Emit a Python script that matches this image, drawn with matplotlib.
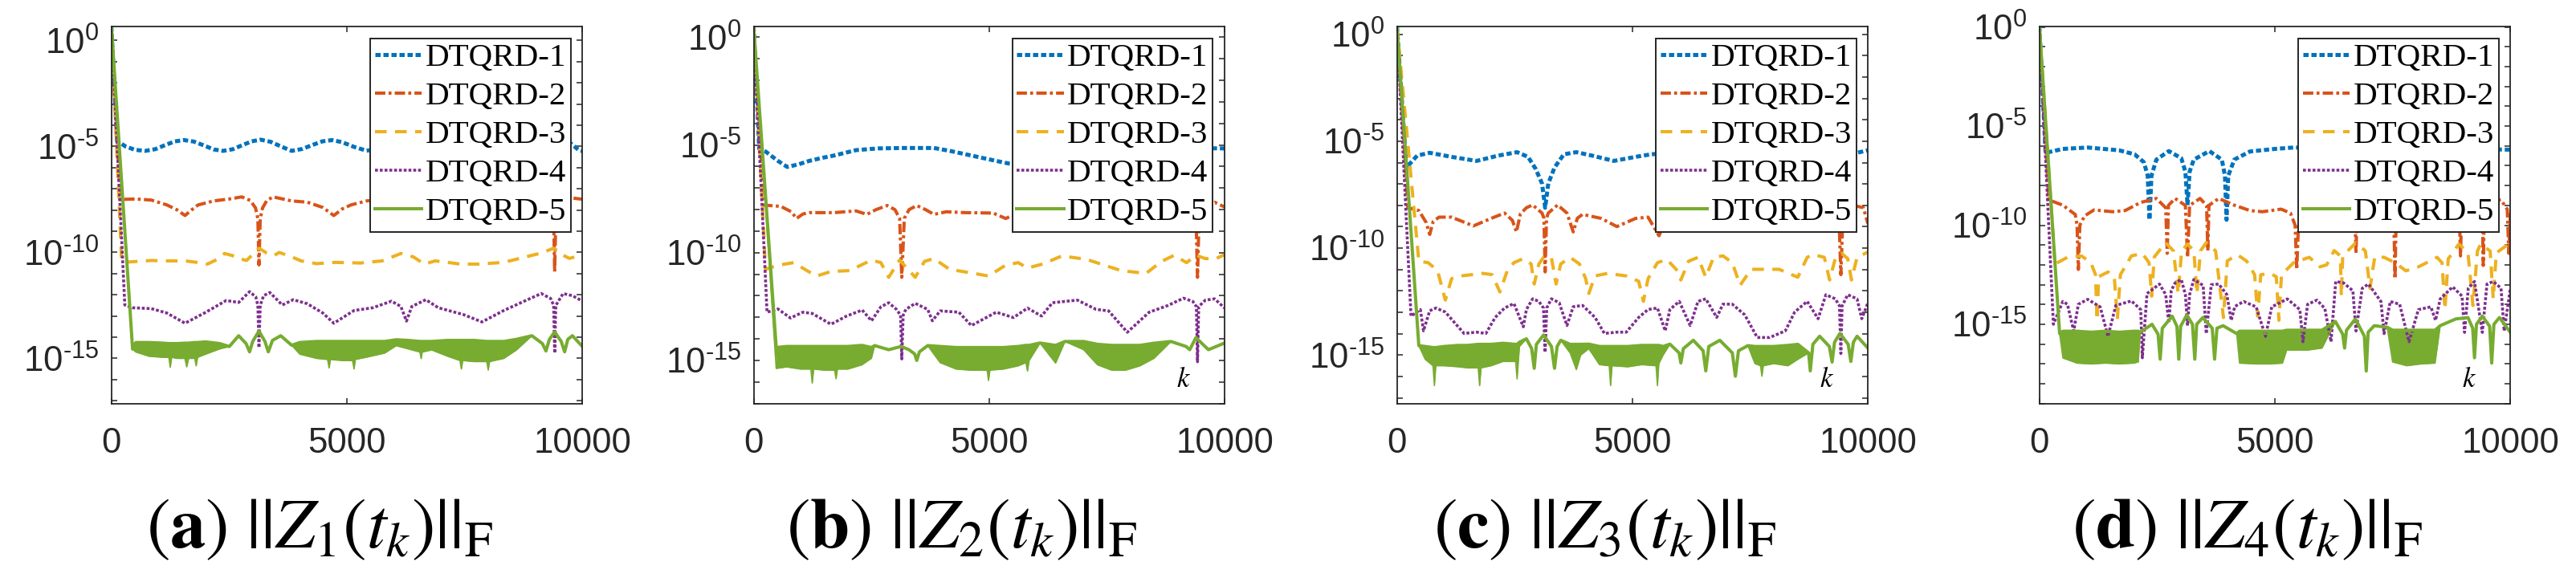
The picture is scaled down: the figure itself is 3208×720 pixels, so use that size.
import numpy as np
import matplotlib
matplotlib.use('Agg')
import matplotlib.pyplot as plt

plt.rcParams['font.family'] = ['Liberation Sans', 'DejaVu Sans']
plt.rcParams['mathtext.fontset'] = 'custom'
plt.rcParams['mathtext.rm'] = 'Liberation Sans'
plt.rcParams['mathtext.it'] = 'Liberation Sans:italic'
plt.rcParams['mathtext.bf'] = 'Liberation Sans:bold'

# ---- data: (k, log10 of ||Z||_F) ----
labels = ['DTQRD-1', 'DTQRD-2', 'DTQRD-3', 'DTQRD-4', 'DTQRD-5']
captions = [r'$(\mathbf{a})\ ||Z_{1}(t_{k})||_{\mathrm{F}}$',
            r'$(\mathbf{b})\ ||Z_{2}(t_{k})||_{\mathrm{F}}$',
            r'$(\mathbf{c})\ ||Z_{3}(t_{k})||_{\mathrm{F}}$',
            r'$(\mathbf{d})\ ||Z_{4}(t_{k})||_{\mathrm{F}}$']
ylog_top = [0.67, 0.51, 0.38, 0.04]
ylog_bot = [-17.13, -17.0, -17.27, -19.0]
show_k = [False, True, True, True]

a1 = [(0,0.67),(120,-4.73),(300,-5.00),(500,-5.16),(715,-5.21),(930,-5.13),(1150,-4.93),(1350,-4.76),(1543,-4.70),(1750,-4.77),(1960,-4.95),(2170,-5.14),(2371,-5.21),(2580,-5.13),(2780,-4.94),(2980,-4.76),(3166,-4.68),(3380,-4.78),(3600,-5.00),(3828,-5.21),(4050,-5.12),(4270,-4.93),(4480,-4.76),(4689,-4.70),(4900,-4.80),(5150,-5.02),(5417,-5.20),(5700,-5.12),(6000,-4.85),(6250,-4.70),(6650,-4.95),(7020,-5.21),(7430,-4.95),(7830,-4.70),(8230,-4.95),(8600,-5.21),(9000,-4.95),(9500,-4.70),(9722,-4.80),(9921,-5.17),(10000,-5.22)]
a2 = [(0,0.67),(185,-7.50),(517,-7.48),(848,-7.53),(1179,-7.76),(1400,-8.00),(1563,-8.26),(1700,-8.00),(1841,-7.76),(2172,-7.57),(2503,-7.48),(2768,-7.38),(2950,-7.55),(3060,-7.90),(3110,-8.40),(3133,-10.59),(3160,-8.40),(3210,-7.90),(3300,-7.55),(3431,-7.38),(3828,-7.57),(4159,-7.63),(4490,-7.88),(4722,-8.26),(4900,-7.95),(5086,-7.76),(5417,-7.57),(5800,-7.50),(6150,-7.45),(6265,-7.80),(6380,-7.45),(6900,-7.55),(7400,-7.75),(7868,-8.26),(8300,-7.76),(8800,-7.55),(9200,-7.40),(9360,-7.90),(9390,-8.40),(9411,-10.91),(9435,-8.40),(9470,-7.90),(9650,-7.40),(10000,-7.49)]
a3 = [(0,0.67),(218,-10.47),(517,-10.43),(848,-10.38),(1179,-10.40),(1576,-10.40),(1850,-10.48),(2040,-10.55),(2238,-10.34),(2404,-10.05),(2570,-10.15),(2700,-10.28),(2868,-10.38),(3000,-10.10),(3133,-9.80),(3298,-10.03),(3450,-10.15),(3563,-10.00),(3828,-10.21),(4027,-10.40),(4358,-10.53),(4755,-10.47),(5285,-10.50),(5749,-10.40),(6146,-10.05),(6411,-10.21),(6643,-10.55),(6875,-10.40),(7139,-10.47),(7404,-10.55),(7802,-10.55),(8331,-10.47),(8795,-10.21),(9126,-10.03),(9391,-9.80),(9590,-10.13),(9722,-10.28),(10000,-10.13)]
a4 = [(0,0.67),(285,-12.48),(450,-12.61),(848,-12.65),(1179,-12.86),(1563,-13.34),(1974,-12.86),(2437,-12.27),(2702,-12.36),(2934,-11.85),(3066,-12.10),(3110,-12.50),(3133,-14.50),(3160,-12.50),(3232,-12.04),(3364,-11.89),(3629,-12.48),(3861,-12.23),(4159,-12.42),(4490,-12.86),(4722,-13.34),(5152,-12.74),(5550,-12.61),(5947,-12.30),(6146,-12.55),(6265,-13.24),(6378,-12.55),(6676,-12.23),(6941,-12.61),(7471,-12.93),(7868,-13.28),(8331,-12.74),(8795,-12.27),(9126,-11.94),(9325,-12.17),(9390,-12.50),(9411,-14.75),(9435,-12.50),(9590,-11.94),(9788,-12.04),(10000,-12.30)]
# DTQRD-5: (k, upper edge, lower edge) of the noisy band
a5 = [(0,0.67,0.67),(450,-14.56,-14.56),(520,-14.25,-14.70),(800,-14.25,-14.90),(1100,-14.28,-14.95),(1220,-14.30,-14.95),(1250,-14.30,-15.42),(1280,-14.30,-14.95),(1400,-14.30,-15.00),(1560,-14.28,-15.00),(1600,-14.28,-15.40),(1640,-14.28,-15.00),(1770,-14.25,-15.00),(1800,-14.25,-15.35),(1830,-14.25,-14.95),(2000,-14.22,-14.80),(2300,-14.30,-14.55),(2503,-14.44,-14.44),(2702,-13.93,-13.93),(2860,-14.30,-14.30),(2934,-14.69,-14.69),(3000,-14.20,-14.20),(3133,-13.71,-13.71),(3260,-14.20,-14.20),(3331,-14.69,-14.69),(3420,-14.15,-14.15),(3596,-13.93,-13.93),(3828,-14.38,-14.38),(4000,-14.25,-14.80),(4358,-14.20,-15.00),(4590,-14.20,-15.05),(4623,-14.20,-15.45),(4650,-14.20,-15.05),(4900,-14.20,-15.10),(5120,-14.20,-15.10),(5152,-14.20,-15.50),(5180,-14.20,-15.05),(5400,-14.20,-14.95),(5800,-14.20,-14.75),(6047,-14.12,-14.40),(6300,-14.15,-14.55),(6550,-14.20,-14.70),(6577,-14.20,-15.01),(6600,-14.20,-14.70),(6800,-14.20,-14.60),(7139,-14.15,-14.90),(7400,-14.15,-15.10),(7430,-14.15,-15.50),(7460,-14.15,-15.10),(7700,-14.15,-15.15),(7970,-14.20,-15.15),(8000,-14.20,-15.55),(8030,-14.20,-15.15),(8331,-14.20,-15.00),(8600,-14.10,-14.60),(8928,-13.93,-13.93),(9150,-14.30,-14.30),(9226,-14.65,-14.65),(9300,-14.10,-14.10),(9411,-13.75,-13.75),(9550,-14.20,-14.20),(9623,-14.69,-14.69),(9690,-14.10,-14.10),(9788,-13.93,-13.93),(10000,-14.44,-14.44)]

b1 = [(0,0.51),(119,-5.18),(252,-5.30),(517,-5.74),(715,-6.02),(950,-5.90),(1179,-5.74),(1450,-5.60),(1709,-5.49),(2172,-5.24),(2636,-5.16),(3166,-5.14),(3828,-5.14),(4159,-5.27),(4623,-5.49),(5152,-5.74),(5417,-5.86),(5800,-5.98),(6200,-6.02),(6800,-5.85),(7500,-5.55),(8300,-5.30),(9000,-5.18),(9500,-5.15),(10000,-5.16)]
b2 = [(0,0.51),(218,-7.79),(580,-7.85),(800,-8.10),(911,-8.41),(1050,-8.20),(1179,-8.14),(1709,-8.14),(2172,-8.06),(2404,-8.22),(2600,-8.00),(2835,-7.81),(3000,-8.00),(3100,-8.41),(3146,-11.14),(3199,-8.41),(3300,-8.00),(3464,-7.81),(3650,-8.00),(3828,-8.22),(4093,-8.10),(4490,-8.14),(5086,-8.16),(5351,-8.41),(5700,-8.10),(6200,-8.00),(6700,-8.10),(7300,-8.20),(7900,-8.35),(8500,-8.10),(9000,-7.90),(9390,-8.10),(9424,-11.14),(9460,-8.10),(9788,-7.66),(10000,-7.88)]
b3 = [(0,0.51),(252,-10.77),(517,-10.58),(848,-10.46),(1179,-10.89),(1344,-11.08),(1642,-10.87),(2040,-10.83),(2503,-10.34),(2702,-10.46),(2868,-11.14),(3100,-10.34),(3431,-11.14),(3629,-10.40),(3828,-10.27),(4159,-10.77),(4490,-10.89),(4987,-11.08),(5351,-10.58),(5616,-10.46),(5815,-10.71),(6146,-10.52),(6543,-10.15),(7073,-10.31),(7404,-10.55),(7802,-10.83),(8331,-10.96),(8663,-10.40),(8928,-10.12),(9192,-10.46),(9391,-10.12),(9590,-10.27),(9788,-10.30),(10000,-10.09)]
b4 = [(0,0.51),(285,-12.76),(517,-12.61),(782,-13.03),(1046,-12.76),(1245,-12.82),(1642,-13.32),(1974,-12.94),(2305,-12.66),(2503,-13.16),(2702,-12.51),(2868,-12.32),(3033,-12.63),(3120,-12.90),(3146,-14.93),(3175,-12.90),(3232,-12.63),(3431,-12.35),(3696,-12.63),(3795,-13.16),(3960,-12.70),(4358,-12.76),(4623,-13.38),(5152,-12.76),(5517,-13.01),(5815,-12.57),(6113,-12.94),(6345,-12.32),(6875,-12.20),(7272,-12.63),(7537,-12.70),(7934,-13.69),(8398,-12.76),(8795,-12.45),(9126,-12.11),(9325,-12.26),(9400,-12.50),(9424,-15.06),(9450,-12.50),(9590,-12.20),(9788,-12.14),(10000,-12.57)]
b5 = [(0,0.51,0.51),(480,-14.40,-15.37),(700,-14.35,-15.30),(1000,-14.35,-15.40),(1215,-14.35,-15.40),(1245,-14.35,-16.05),(1275,-14.35,-15.40),(1500,-14.35,-15.45),(1720,-14.35,-15.45),(1750,-14.35,-15.85),(1780,-14.35,-15.40),(2000,-14.35,-15.40),(2300,-14.30,-15.20),(2500,-14.40,-14.90),(2570,-14.31,-14.31),(2868,-14.50,-14.50),(3133,-14.35,-14.35),(3298,-14.50,-14.50),(3420,-14.70,-14.70),(3464,-15.00,-15.00),(3520,-14.60,-14.60),(3696,-14.31,-14.31),(3960,-14.35,-15.10),(4300,-14.40,-15.40),(4600,-14.40,-15.45),(4957,-14.40,-15.45),(4987,-14.40,-15.93),(5017,-14.40,-15.45),(5300,-14.40,-15.40),(5617,-14.35,-15.25),(5780,-14.30,-15.10),(5815,-14.30,-15.49),(5850,-14.30,-15.00),(6080,-14.19,-14.19),(6411,-14.30,-15.12),(6610,-14.12,-14.12),(7007,-14.12,-14.50),(7300,-14.25,-15.20),(7600,-14.30,-15.45),(7900,-14.30,-15.45),(8200,-14.30,-15.25),(8500,-14.20,-14.90),(8861,-14.12,-14.12),(9180,-14.35,-14.35),(9259,-14.50,-14.50),(9391,-13.94,-13.94),(9560,-14.30,-14.30),(9656,-14.50,-14.50),(10000,-14.19,-14.19)]

c1 = [(0,0.38),(199,-6.23),(430,-5.67),(695,-5.54),(1159,-5.73),(1689,-5.92),(2152,-5.67),(2550,-5.51),(2782,-5.73),(2947,-6.30),(3080,-6.98),(3146,-8.11),(3212,-6.98),(3345,-6.23),(3543,-5.61),(3808,-5.51),(4139,-5.67),(4603,-5.92),(5066,-5.73),(5397,-5.61),(5800,-5.55),(6100,-5.80),(6260,-7.50),(6400,-5.80),(6800,-5.55),(7300,-5.70),(7800,-5.92),(8300,-5.70),(8800,-5.55),(9250,-6.10),(9420,-7.80),(9600,-6.00),(9768,-5.54),(10000,-5.42)]
c2 = [(0,0.38),(232,-8.11),(464,-8.24),(620,-8.80),(695,-9.36),(770,-8.75),(894,-8.55),(1159,-8.55),(1623,-8.96),(2020,-8.59),(2285,-8.36),(2450,-8.70),(2537,-9.24),(2620,-8.40),(2748,-8.11),(2881,-7.98),(3080,-8.36),(3120,-8.60),(3146,-11.11),(3175,-8.60),(3212,-8.36),(3411,-7.98),(3609,-8.36),(3742,-9.24),(3830,-8.60),(3941,-8.42),(4338,-8.61),(4669,-8.99),(5066,-8.61),(5331,-8.55),(5563,-9.42),(5700,-8.70),(6100,-8.30),(6300,-8.90),(6450,-8.30),(6800,-8.10),(7300,-8.60),(7850,-8.95),(8400,-8.60),(8900,-8.30),(9200,-8.10),(9380,-8.30),(9424,-11.24),(9470,-8.30),(9700,-8.00),(9901,-8.11),(10000,-8.86)]
c3 = [(0,0.38),(464,-10.61),(662,-10.68),(861,-11.05),(1027,-12.43),(1159,-11.43),(1358,-11.30),(1821,-11.18),(2020,-11.24),(2186,-12.05),(2351,-10.99),(2484,-10.68),(2682,-10.49),(2848,-10.74),(2914,-11.68),(3013,-10.74),(3113,-10.43),(3278,-10.43),(3378,-11.68),(3477,-10.74),(3676,-10.43),(3874,-10.74),(4007,-11.43),(4073,-12.12),(4205,-11.30),(4470,-11.18),(4868,-11.30),(5132,-11.55),(5232,-12.49),(5331,-11.43),(5530,-10.68),(5729,-10.53),(5927,-10.99),(6027,-11.49),(6192,-10.61),(6391,-10.43),(6556,-11.36),(6722,-10.43),(6921,-10.36),(7119,-10.68),(7285,-11.74),(7517,-10.99),(8113,-10.99),(8510,-11.36),(8709,-10.43),(8841,-10.30),(9073,-10.43),(9185,-11.49),(9305,-10.49),(9437,-10.24),(9570,-10.49),(9649,-11.49),(9768,-10.43),(10000,-10.18)]
c4 = [(0,0.38),(298,-13.18),(497,-12.87),(563,-13.87),(695,-12.93),(828,-12.80),(1027,-12.99),(1225,-13.49),(1424,-13.99),(1689,-13.93),(1888,-13.99),(2086,-13.24),(2285,-12.80),(2484,-12.59),(2682,-13.68),(2748,-12.87),(2881,-12.37),(3013,-12.49),(3110,-12.80),(3146,-14.87),(3180,-12.80),(3278,-12.37),(3444,-12.55),(3609,-13.62),(3742,-12.74),(3941,-12.68),(4205,-13.24),(4404,-13.99),(4669,-13.93),(4868,-13.93),(5132,-13.24),(5331,-12.87),(5530,-12.80),(5695,-13.87),(5795,-12.87),(5993,-12.49),(6225,-13.62),(6391,-12.49),(6556,-12.37),(6788,-13.24),(6921,-12.62),(7119,-12.62),(7384,-13.12),(7649,-14.18),(7914,-14.18),(8245,-13.87),(8444,-12.99),(8709,-12.49),(8941,-13.30),(9106,-12.18),(9305,-12.37),(9395,-12.70),(9424,-14.93),(9450,-12.70),(9570,-12.18),(9768,-12.37),(9868,-13.30),(10000,-12.55)]
c5 = [(0,0.38,0.38),(464,-14.56,-14.56),(600,-14.60,-15.20),(765,-14.65,-15.50),(795,-14.65,-16.43),(825,-14.65,-15.50),(1000,-14.60,-15.50),(1300,-14.55,-15.55),(1500,-14.55,-15.60),(1725,-14.50,-15.60),(1755,-14.50,-16.43),(1785,-14.50,-15.60),(2000,-14.50,-15.50),(2250,-14.45,-15.30),(2520,-14.50,-15.30),(2550,-14.50,-16.12),(2600,-14.40,-14.60),(2748,-14.24,-14.24),(2860,-14.70,-14.70),(2914,-15.62,-15.62),(2960,-14.50,-14.50),(3113,-14.06,-14.06),(3280,-14.60,-14.60),(3345,-15.62,-15.62),(3400,-14.60,-14.60),(3477,-14.31,-14.31),(3676,-14.50,-14.90),(3808,-14.50,-15.68),(3900,-14.50,-15.00),(4073,-14.49,-14.70),(4300,-14.60,-15.45),(4506,-14.60,-15.50),(4536,-14.60,-16.43),(4566,-14.60,-15.50),(4900,-14.60,-15.55),(5200,-14.55,-15.45),(5500,-14.55,-15.50),(5530,-14.55,-16.43),(5560,-14.55,-15.40),(5650,-14.60,-15.00),(5795,-14.49,-14.49),(5990,-14.90,-14.90),(6027,-15.37,-15.37),(6080,-14.70,-14.70),(6292,-14.31,-14.31),(6500,-14.80,-14.80),(6556,-15.74,-15.74),(6620,-14.60,-14.60),(6855,-14.31,-14.31),(7120,-14.90,-14.90),(7185,-15.99,-15.99),(7250,-14.80,-14.80),(7450,-14.56,-14.56),(7600,-14.60,-15.40),(7718,-14.60,-15.50),(7748,-14.60,-15.99),(7778,-14.60,-15.50),(8000,-14.60,-15.40),(8300,-14.55,-15.50),(8510,-14.50,-15.20),(8740,-14.90,-14.90),(8775,-15.74,-15.74),(8830,-14.50,-14.50),(8974,-14.12,-14.12),(9180,-14.60,-14.60),(9238,-15.33,-15.33),(9290,-14.40,-14.40),(9404,-13.99,-13.99),(9580,-14.50,-14.50),(9636,-15.30,-15.30),(9690,-14.40,-14.40),(9768,-14.12,-14.12),(10000,-14.68,-14.68)]

d1 = [(0,0.04),(132,-6.35),(497,-6.15),(1027,-6.08),(1689,-6.22),(2020,-6.42),(2219,-6.82),(2300,-7.50),(2338,-9.73),(2380,-7.50),(2484,-6.69),(2748,-6.26),(3013,-6.62),(3100,-7.30),(3146,-8.99),(3190,-7.30),(3278,-6.69),(3609,-6.26),(3874,-6.69),(3940,-7.50),(3974,-9.73),(4010,-7.50),(4139,-6.69),(4470,-6.28),(5000,-6.15),(5397,-6.08),(6000,-6.10),(6700,-6.10),(7500,-6.10),(8300,-6.12),(9000,-6.15),(10000,-6.19)]
d2 = [(0,0.04),(199,-8.72),(497,-8.99),(762,-9.46),(800,-10.00),(828,-12.23),(860,-10.00),(960,-9.53),(1159,-9.23),(1556,-9.32),(1821,-9.26),(2152,-8.85),(2484,-8.65),(2682,-9.12),(2715,-11.42),(2740,-9.00),(2881,-8.65),(3100,-9.00),(3146,-11.62),(3190,-9.00),(3411,-8.65),(3550,-9.00),(3576,-11.28),(3600,-9.00),(3808,-8.65),(4139,-8.99),(4470,-9.26),(4735,-9.32),(5132,-9.19),(5331,-9.39),(5430,-10.00),(5464,-12.23),(5500,-10.00),(5800,-9.30),(6300,-9.00),(6690,-8.80),(6722,-11.42),(6750,-8.80),(7150,-8.70),(7520,-9.00),(7550,-12.70),(7580,-9.00),(8200,-9.20),(8910,-8.90),(8941,-11.55),(8970,-8.90),(9300,-8.80),(9400,-8.80),(9424,-12.03),(9450,-8.80),(9801,-8.72),(9934,-9.20),(9967,-11.42),(10000,-9.40)]
d3 = [(0,0.04),(331,-11.96),(596,-11.62),(894,-11.55),(1093,-11.89),(1192,-12.50),(1225,-14.80),(1258,-12.60),(1457,-12.36),(1590,-12.60),(1656,-14.73),(1720,-12.50),(1954,-11.55),(2186,-11.42),(2330,-11.90),(2384,-13.58),(2440,-11.60),(2682,-10.88),(2848,-11.30),(2947,-13.45),(3020,-11.30),(3146,-10.95),(3280,-11.30),(3345,-13.45),(3420,-11.30),(3543,-10.88),(3742,-11.30),(3908,-14.66),(3990,-11.80),(4205,-11.49),(4404,-11.82),(4570,-12.50),(4636,-14.59),(4700,-12.50),(4901,-12.43),(5030,-12.60),(5086,-14.80),(5140,-12.50),(5398,-11.89),(5729,-11.62),(5960,-12.10),(6100,-12.00),(6259,-11.28),(6391,-11.55),(6411,-13.58),(6440,-11.55),(6722,-10.88),(6921,-11.30),(7020,-13.18),(7120,-11.60),(7318,-11.62),(7550,-11.89),(7781,-12.30),(8050,-12.10),(8444,-11.62),(8550,-11.90),(8610,-14.26),(8680,-11.70),(8907,-10.95),(9100,-11.40),(9205,-14.05),(9300,-11.30),(9371,-10.95),(9570,-11.30),(9636,-13.72),(9700,-11.40),(10000,-10.88)]
d4 = [(0,0.04),(298,-15.00),(497,-13.85),(596,-13.99),(729,-15.34),(828,-13.99),(1027,-13.74),(1291,-14.12),(1457,-15.61),(1623,-14.05),(1954,-13.82),(2152,-14.26),(2186,-16.69),(2285,-13.45),(2550,-12.97),(2682,-13.50),(2748,-14.93),(2800,-13.30),(2881,-12.91),(3013,-12.74),(3100,-13.50),(3146,-15.07),(3190,-13.50),(3278,-12.74),(3477,-13.04),(3543,-15.47),(3650,-13.00),(3808,-12.97),(3980,-13.50),(4073,-14.80),(4150,-14.10),(4338,-13.85),(4603,-14.12),(4801,-15.61),(4934,-14.12),(5265,-13.72),(5530,-14.26),(5596,-15.88),(5695,-13.99),(5894,-13.78),(6060,-14.20),(6192,-15.88),(6292,-12.84),(6457,-12.91),(6656,-13.31),(6722,-15.34),(6855,-13.18),(6987,-12.97),(7252,-13.85),(7318,-15.47),(7450,-13.85),(7649,-13.99),(7848,-15.88),(8047,-14.26),(8311,-14.12),(8411,-14.80),(8510,-13.72),(8775,-13.11),(8974,-13.58),(9027,-15.41),(9106,-13.18),(9238,-12.84),(9404,-15.41),(9503,-12.97),(9636,-12.84),(9801,-13.18),(9868,-15.34),(10000,-13.18)]
d5 = [(0,0.04,0.04),(430,-15.47,-15.47),(500,-15.35,-16.70),(800,-15.35,-16.96),(1100,-15.40,-17.00),(1400,-15.35,-16.96),(1700,-15.40,-17.00),(2000,-15.35,-16.96),(2100,-15.35,-16.90),(2140,-15.40,-15.40),(2392,-15.00,-15.00),(2520,-15.50,-15.50),(2565,-16.76,-16.76),(2610,-15.20,-15.20),(2820,-14.59,-14.59),(2920,-15.10,-15.10),(2960,-16.76,-16.76),(3000,-15.10,-15.10),(3130,-14.53,-14.53),(3250,-15.00,-15.00),(3300,-16.76,-16.76),(3340,-15.00,-15.00),(3470,-14.66,-14.66),(3670,-15.20,-15.20),(3720,-16.76,-16.76),(3770,-15.20,-15.20),(3900,-15.07,-15.07),(4190,-15.47,-15.47),(4250,-15.35,-16.96),(4600,-15.35,-17.00),(4900,-15.35,-17.00),(5160,-15.35,-16.96),(5250,-15.30,-16.30),(5700,-15.30,-16.30),(6000,-15.30,-16.20),(6285,-14.86,-14.86),(6440,-15.50,-15.50),(6480,-16.20,-16.20),(6520,-15.30,-15.30),(6710,-14.73,-14.73),(6900,-15.60,-15.60),(6940,-17.36,-17.36),(6980,-15.40,-15.40),(7110,-15.07,-15.07),(7384,-15.15,-15.15),(7500,-15.30,-16.90),(7800,-15.30,-17.09),(8100,-15.30,-17.00),(8400,-15.30,-16.96),(8510,-15.07,-15.07),(8841,-14.73,-14.73),(9100,-14.66,-14.66),(9200,-15.20,-15.20),(9238,-16.69,-16.69),(9280,-15.00,-15.00),(9404,-14.59,-14.59),(9560,-15.10,-15.10),(9603,-16.96,-16.96),(9650,-15.00,-15.00),(9768,-14.66,-14.66),(10000,-15.41,-15.41)]

panels = [(a1, a2, a3, a4, a5), (b1, b2, b3, b4, b5),
          (c1, c2, c3, c4, c5), (d1, d2, d3, d4, d5)]

# ---- styles (MATLAB default colour order) ----
colors = ['#0072BD', '#D95319', '#EDB120', '#7E2F8E', '#77AC30']
widths = [3.6, 2.9, 2.9, 2.6, 2.9]
dashes = [(0, (1.3, 0.7)), (0, (3.2, 1.0, 0.9, 1.0)), (0, (3.6, 2.6)),
          (0, (1.0, 0.65)), '-']
axcol = '#262626'
leg_fs = 29.5
leg_kw = dict(loc='upper right', bbox_to_anchor=(0.975, 0.968),
              borderaxespad=0, prop={'family': 'Liberation Serif', 'size': leg_fs},
              handletextpad=0.1, borderpad=0.14, fancybox=False,
              framealpha=1, edgecolor=axcol)


def exp_label(e):
    # MATLAB style exponent with a short hyphen
    if e == 0:
        return r'$10^{0}$'
    return r'$10^{\text{-}%d}$' % abs(e)


fig = plt.figure(figsize=(32.08, 7.2), dpi=100)
lefts = [0.04324, 0.29255, 0.54230, 0.79168]
W, B, H = 0.18285, 0.3018, 0.6528

axes, all_handles, caps = [], [], []
for p, series in enumerate(panels):
    ax = fig.add_axes([lefts[p], B, W, H])
    ax.set_yscale('log')
    handles = []
    for i in range(4):
        k = [q[0] for q in series[i]]
        v = 10.0 ** np.array([q[1] for q in series[i]])
        h, = ax.plot(k, v, color=colors[i], lw=widths[i], linestyle=dashes[i],
                     label=labels[i])
        handles.append(h)
    k5 = [q[0] for q in series[4]]
    hi = 10.0 ** np.array([q[1] for q in series[4]])
    lo = 10.0 ** np.array([q[2] for q in series[4]])
    ax.fill_between(k5, lo, hi, color=colors[4], lw=0)
    h, = ax.plot(k5, hi, color=colors[4], lw=widths[4], label=labels[4])
    handles.append(h)
    ax.plot(k5, lo, color=colors[4], lw=1.2)

    ax.set_xlim(0, 10000)
    ax.set_ylim(10.0 ** ylog_bot[p], 10.0 ** ylog_top[p])
    ax.set_xticks([0, 5000, 10000])
    ax.set_xticklabels(['0', '5000', '10000'])
    dec = list(range(int(np.ceil(ylog_bot[p])), 1))
    ax.set_yticks([10.0 ** e for e in dec])
    ax.set_yticklabels([exp_label(e) if e % 5 == 0 else '' for e in dec])
    ax.minorticks_off()
    ax.tick_params(which='both', direction='in', top=True, right=True,
                   length=5, width=1.1, color=axcol, labelcolor=axcol,
                   labelsize=31.5)
    ax.tick_params(axis='x', pad=21)
    ax.tick_params(axis='y', pad=11)
    for s in ax.spines.values():
        s.set_linewidth(1.3)
        s.set_color(axcol)

    if show_k[p]:
        ax.text(0.913, 0.044, r'$k$', transform=ax.transAxes, ha='center',
                va='baseline', fontsize=25, math_fontfamily='stix')

    cx = lefts[p] + W / 2 - 34.0 / 3208
    t = fig.text(cx, 0.0528, captions[p], ha='center', va='baseline',
                 fontsize=60, math_fontfamily='stix', color='black')
    axes.append(ax)
    all_handles.append(handles)
    caps.append(t)

# fit legend box (about 250 x 241 px) and caption width (about 433 px)
fs_px = leg_fs * 100 / 72.0
leg = axes[0].legend(handles=all_handles[0], handlelength=1.37,
                     labelspacing=0.05, **leg_kw)
fig.canvas.draw()
r = fig.canvas.get_renderer()
bb = leg.get_window_extent(r)
ls = 0.05 + (241.0 - bb.height) / (4 * fs_px)
hl = 1.37 + (249.7 - bb.width) / fs_px
leg.remove()
for ax, handles in zip(axes, all_handles):
    lg = ax.legend(handles=handles, handlelength=hl, labelspacing=ls, **leg_kw)
    lg.get_frame().set_linewidth(1.4)
cw = caps[0].get_window_extent(r).width
for t in caps:
    t.set_fontsize(60 * 433.0 / cw)

fig.savefig('out.png', dpi=100, facecolor='white')
